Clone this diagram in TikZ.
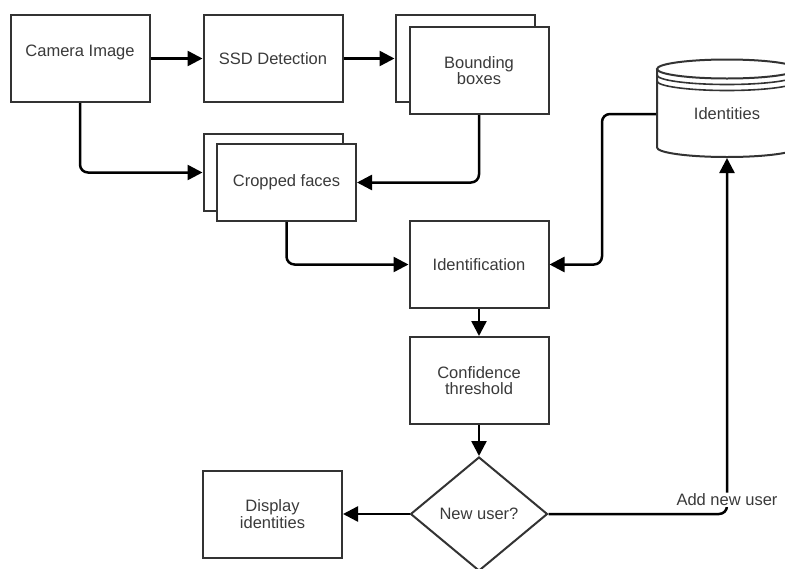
\documentclass[tikz,border=0pt]{standalone}
\usepackage{fontspec}
\setmainfont{Liberation Sans}
\usetikzlibrary{shapes.geometric,arrows.meta}
\definecolor{boxline}{HTML}{333333}
\definecolor{boxtext}{HTML}{3A3A3A}

\begin{document}
\begin{tikzpicture}[x=1pt, y=-1pt,
    lbl/.style={text=boxtext, font=\fontsize{16.5}{16.5}\selectfont},
    box/.style={lbl, draw=boxline, line width=2pt, fill=white, minimum width=139pt,
      minimum height=87pt, inner sep=0pt, align=center},
    decision/.style={box, diamond, minimum width=137pt, minimum height=114pt},
    arr/.style={line width=2.5pt, -{Triangle[length=15pt,width=15pt]}, rounded corners=8pt}]
    \clip (0,0) rectangle (785,568);

    \node[box] (cam) at (80,58.5) {Camera Image\\~};
    \node[box] (ssd) at (273,58.5) {SSD Detection};
    \node[box] (bbback) at (465,58.5) {};
    \node[box] (bb) at (479,70.5) {Bounding\\boxes};
    \node[box, minimum height=77pt] (crback) at (273,172.5) {};
    \node[box, minimum height=77pt] (cr) at (286.5,182.5) {Cropped faces};
    \node[box] (idf) at (479,264.5) {Identification};
    \node[box] (conf) at (479,380.5) {Confidence\\threshold};
    \node[decision] (user) at (479,514) {New user?};
    \node[box] (disp) at (272.5,514) {Display\\identities};

    % data store
    \draw[boxline, line width=2pt] (727,69) ellipse [x radius=70, y radius=9.5];
    \foreach \dy in {75,81}
      \draw[boxline, line width=1.6pt] (657,\dy) arc[start angle=180, end angle=0, x radius=70, y radius=9.5];
    \draw[boxline, line width=2pt] (657,69) -- (657,147.5)
      arc[start angle=180, end angle=0, x radius=70, y radius=9.5] -- (797,69);
    \node[box, draw=none, fill=none, minimum width=140pt, minimum height=86pt] (ids) at (727,114) {Identities};

    \draw[arr] (cam) -- (ssd);
    \draw[arr] (ssd) -- (bbback);
    \draw[arr] (cam.south) |- (crback.west);
    \draw[arr] (bb.south) |- (cr.east);
    \draw[arr] (cr.south) |- (idf.west);
    \draw[arr] (ids.west) -- ++(-54,0) |- (idf.east);
    \draw[arr] (idf) -- (conf);
    \draw[arr] (conf) -- (user);
    \draw[arr] (user) -- (disp);
    \draw[arr] (user.east) -| node[lbl, pos=0.52, fill=white, inner sep=1pt] {Add new user} (ids.south);
  \end{tikzpicture}
\end{document}
